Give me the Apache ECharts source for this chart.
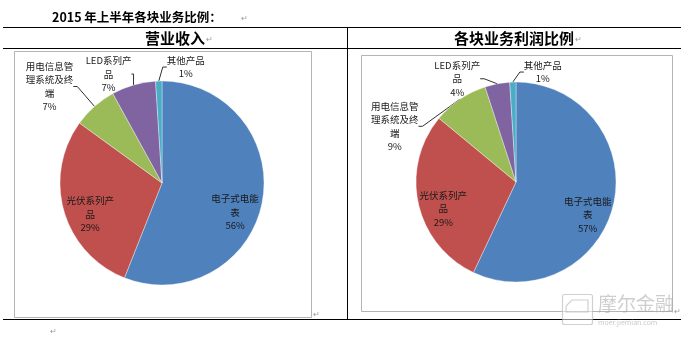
<!DOCTYPE html>
<html>
<head>
<meta charset="utf-8">
<script src="https://cdn.jsdelivr.net/npm/echarts@6/dist/echarts.min.js"></script>
<style>
html,body{margin:0;padding:0;background:#fff;}
#c{width:681px;height:338px;}
</style>
</head>
<body>
<div id="c"></div>
<script>
// ---- data ----
var pageTitle = '2015 年上半年各块业务比例：';
var leftTitle = '营业收入';
var rightTitle = '各块业务利润比例';
var categories = ['电子式电能表', '光伏系列产品', '用电信息管理系统及终端', 'LED系列产品', '其他产品'];
var revenueShare = [56, 29, 7, 7, 1];
var profitShare = [57, 29, 9, 4, 1];
var watermarkName = '摩尔金融';
var watermarkUrl = 'moer.jiemian.com';

// ---- style ----
var FONT = '"Noto Sans CJK SC", "Noto Sans", sans-serif';
var colors = ['#4F81BD', '#C0504D', '#9BBB59', '#8064A2', '#4BACC6'];
// label placement tweaks: [mode, dx, dy]; inside -> offset from default inner point, outside -> offset from slice edge anchor
var labelTweak = [
  [['in', 20, 19], ['in', -20, 16], ['out', -45, -20], ['out', -25, -11], ['out', 27, -14]],
  [['in', 20, 21], ['in', -21, 15], ['out', -65, 27], ['out', -40, -5], ['out', 30, -10]]
];

function wrapName(name, maxUnits) {
  var lines = [], cur = '', units = 0;
  for (var i = 0; i < name.length; i++) {
    var ch = name[i];
    var u = /[\x00-\x7f]/.test(ch) ? 0.5 : 1;
    if (units + u > maxUnits && cur) { lines.push(cur); cur = ''; units = 0; }
    cur += ch; units += u;
  }
  if (cur) lines.push(cur);
  return lines;
}

function buildData(values) {
  return categories.map(function (n, i) {
    return { name: n, value: values[i], itemStyle: { color: colors[i] } };
  });
}

function pieSeries(values, center, radius, sIdx) {
  return {
    type: 'pie',
    center: center,
    radius: radius,
    startAngle: 90,
    clockwise: true,
    avoidLabelOverlap: false,
    animation: false,
    silent: true,
    data: buildData(values).map(function (d, i) {
      d.label = { position: labelTweak[sIdx][i][0] === 'in' ? 'inside' : 'outside' };
      d.labelLine = { show: labelTweak[sIdx][i][0] !== 'in' };
      return d;
    }),
    itemStyle: { borderColor: 'rgba(255,255,255,0.6)', borderWidth: 0.6 },
    label: {
      show: true,
      color: '#1a1a1a',
      fontFamily: FONT,
      fontSize: 9.5,
      formatter: function (p) {
        var lines = wrapName(p.name, 5);
        lines.push(p.value + '%');
        return lines.map(function (s) { return '{t|' + s + '}'; }).join('\n');
      },
      rich: { t: { align: 'center', fontSize: 9.5, lineHeight: 13.5, fontFamily: FONT, color: '#1a1a1a' } }
    },
    labelLine: { show: true, length: 10, length2: 4, lineStyle: { color: '#303030', width: 1 } },
    labelLayout: function (p) {
      var tw = labelTweak[sIdx][p.dataIndex];
      if (tw[0] === 'in' || !p.labelLinePoints) {
        return { dx: tw[1], dy: tw[2] };
      }
      var a = p.labelLinePoints[0];
      return { x: a[0] + tw[1], y: a[1] + tw[2], align: 'center', verticalAlign: 'middle' };
    }
  };
}

var chart = echarts.init(document.getElementById('c'), null, { renderer: 'canvas' });

function hline(x1, x2, y, color) {
  return { type: 'line', silent: true, shape: { x1: x1, y1: y + 0.5, x2: x2, y2: y + 0.5 }, style: { stroke: color || '#000', lineWidth: 1 } };
}
function vline(x, y1, y2, color) {
  return { type: 'line', silent: true, shape: { x1: x + 0.5, y1: y1, x2: x + 0.5, y2: y2 }, style: { stroke: color || '#000', lineWidth: 1 } };
}
function txt(x, y, s, size, weight, color, align) {
  return { type: 'text', silent: true, x: x, y: y, style: { text: s, font: (weight || 'normal') + ' ' + size + 'px ' + FONT, fill: color || '#000', align: align || 'left', verticalAlign: 'middle' } };
}

var RET = '\u21B5';

chart.setOption({
  backgroundColor: '#fff',
  animation: false,
  graphic: [
    txt(52, 17, pageTitle, 12.5, 'bold', '#000', 'left'),
    txt(241, 18, RET, 8, 'normal', '#9a9a9a', 'left'),
    hline(3, 681, 27),
    txt(175, 38, leftTitle, 15, 'bold', '#000', 'center'),
    txt(206, 39, RET, 8, 'normal', '#9a9a9a', 'left'),
    txt(514, 38, rightTitle, 15, 'bold', '#000', 'center'),
    txt(575, 39, RET, 8, 'normal', '#9a9a9a', 'left'),
    hline(3, 681, 48),
    vline(347, 27, 320),
    hline(3, 681, 319),
    { type: 'rect', silent: true, shape: { x: 14.5, y: 51.5, width: 297, height: 266 }, style: { fill: '#fff', stroke: '#b4b4b4', lineWidth: 1 } },
    { type: 'rect', silent: true, shape: { x: 361.5, y: 55.5, width: 311, height: 256 }, style: { fill: '#fff', stroke: '#b4b4b4', lineWidth: 1 } },
    txt(313, 314, RET, 8, 'normal', '#9a9a9a', 'left'),
    txt(674, 311, RET, 8, 'normal', '#9a9a9a', 'left'),
    txt(50, 331, RET, 8, 'normal', '#9a9a9a', 'left'),
    // watermark
    { type: 'rect', silent: true, z: 100, shape: { x: 562.5, y: 294.5, width: 30, height: 30, r: 2 }, style: { fill: 'rgba(255,255,255,0.5)', stroke: 'rgba(170,170,170,0.55)', lineWidth: 1.2 } },
    { type: 'polyline', silent: true, z: 100, shape: { points: [[566, 306], [572, 300], [588, 300], [588, 312], [566, 312], [566, 306]] }, style: { fill: 'none', stroke: 'rgba(170,170,170,0.55)', lineWidth: 1.2 } },
    { type: 'text', silent: true, z: 100, x: 598, y: 304, style: { text: watermarkName, font: '19px ' + FONT, fill: 'rgba(165,165,165,0.55)', verticalAlign: 'middle', align: 'left' } },
    { type: 'text', silent: true, z: 100, x: 598, y: 322, style: { text: watermarkUrl, font: '7px ' + FONT, fill: 'rgba(165,165,165,0.6)', verticalAlign: 'middle', align: 'left' } }
  ],
  series: [
    pieSeries(revenueShare, [162, 183], 102, 0),
    pieSeries(profitShare, [516, 182], 100, 1)
  ]
});
</script>
</body>
</html>
